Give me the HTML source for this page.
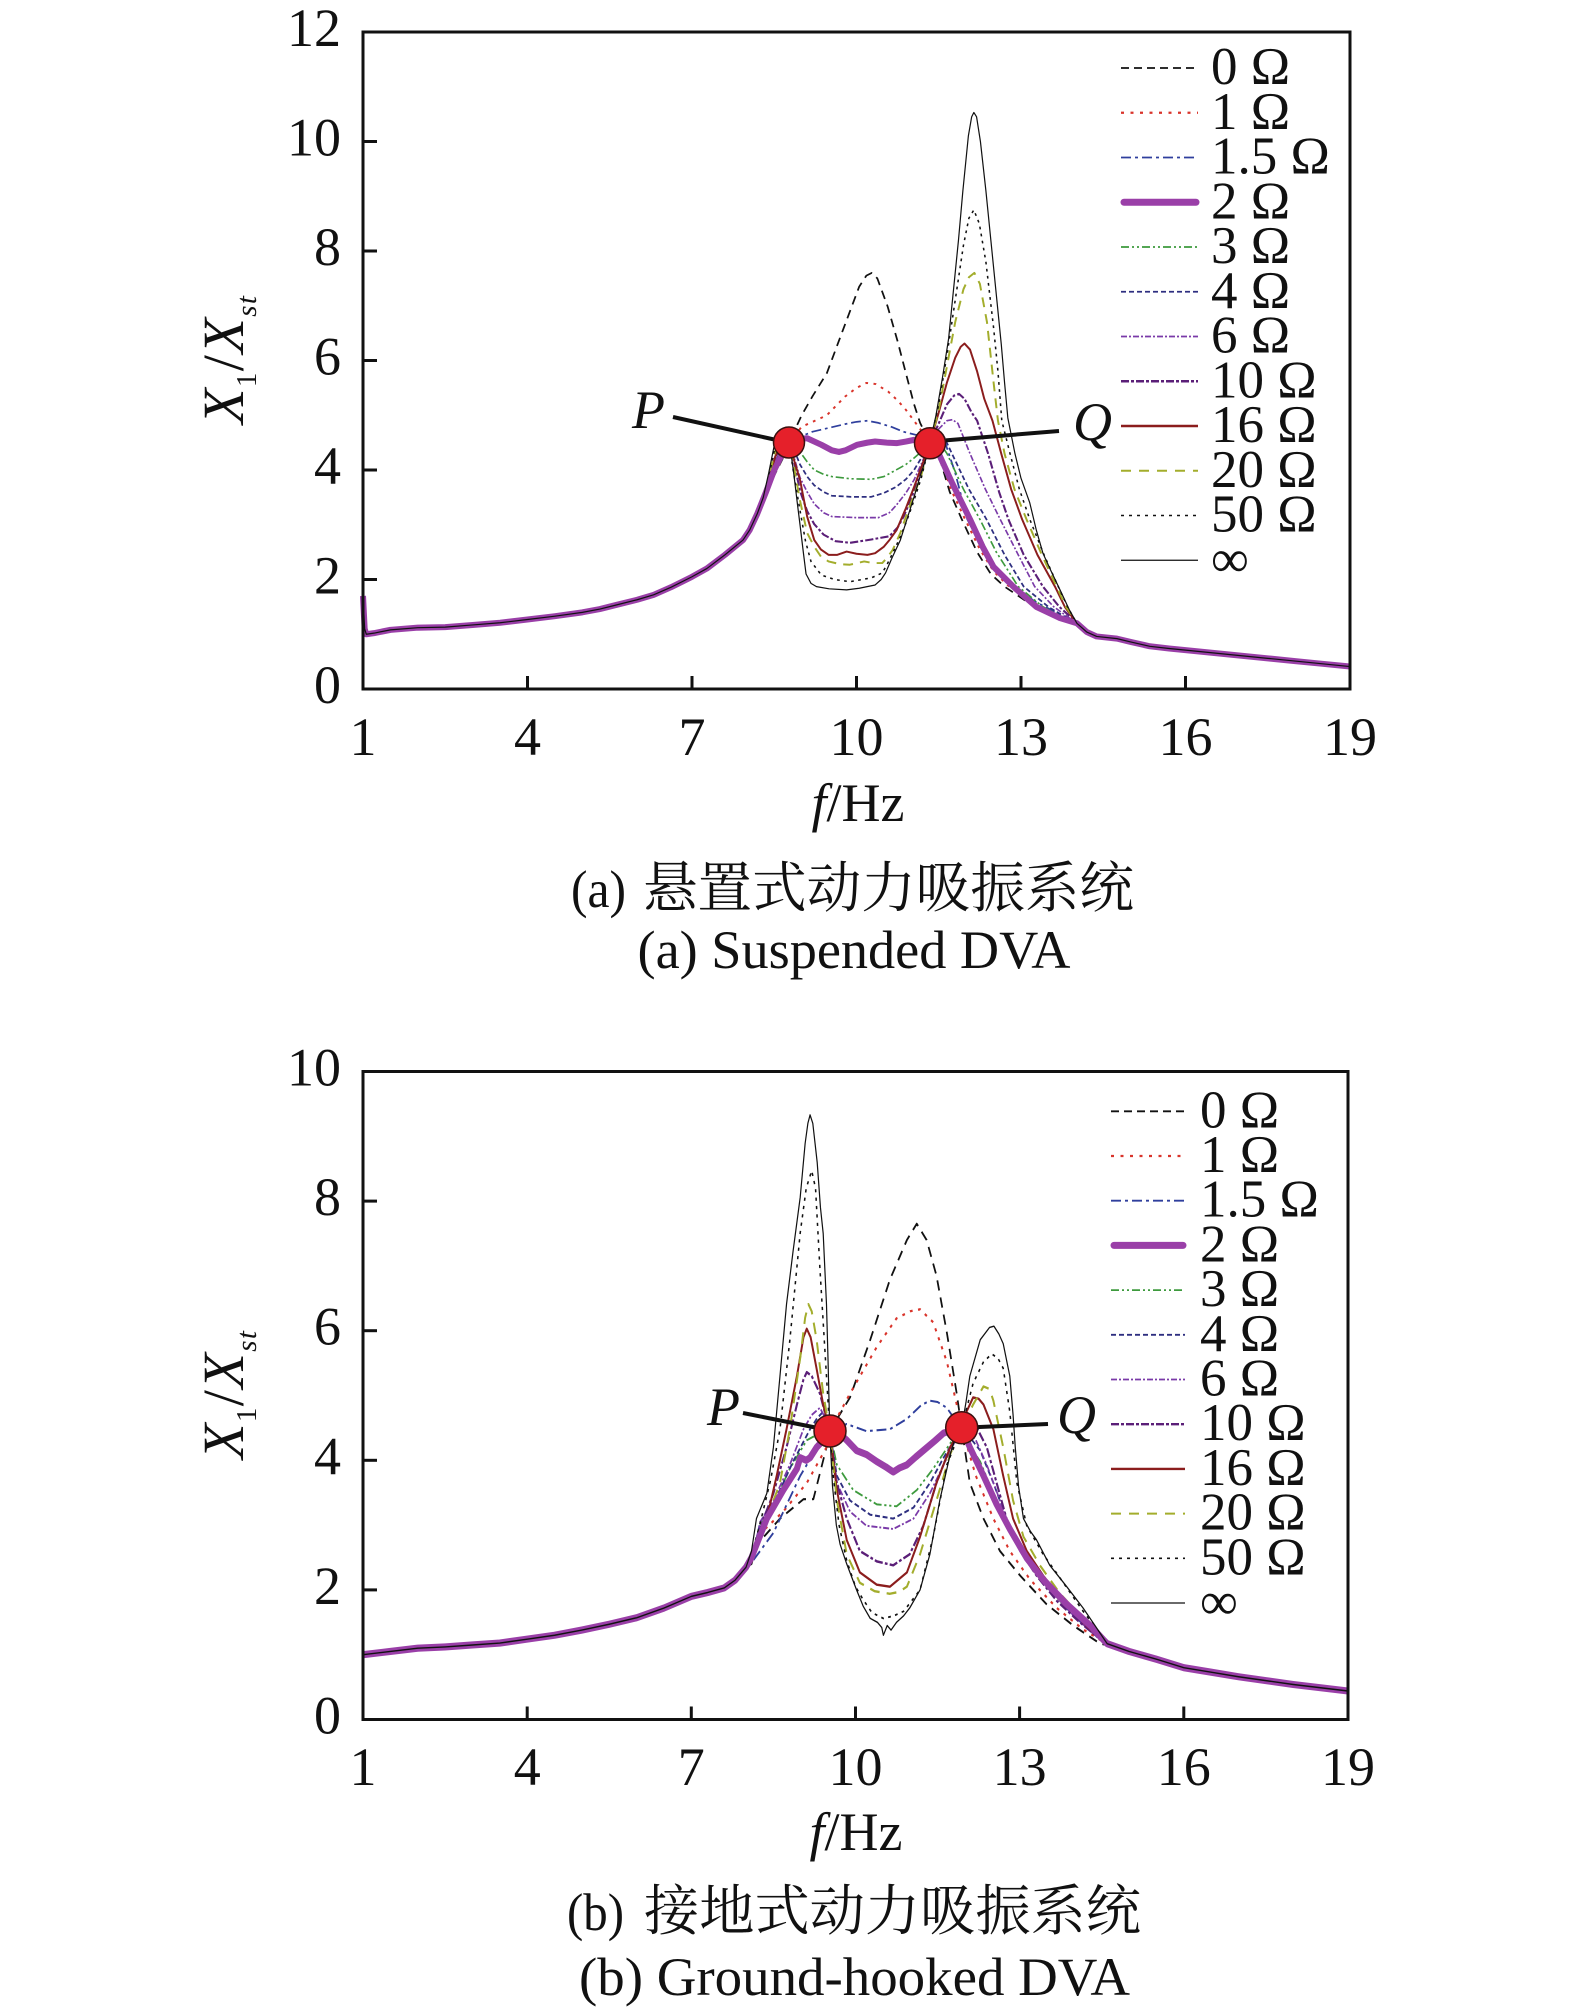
<!DOCTYPE html>
<html><head><meta charset="utf-8"><style>
html,body{margin:0;padding:0;background:#fff;}
svg{display:block;}
text{font-family:"Liberation Serif","Noto Serif CJK SC",serif;fill:#111;}
.cjk{font-family:"Noto Serif CJK SC","Liberation Serif",serif;}
polyline{fill:none;stroke-linejoin:round;}
.c0{stroke:#111;stroke-width:.032;stroke-dasharray:.16 .11}
.c1{stroke:#d9342b;stroke-width:.036;stroke-dasharray:.05 .1}
.c15{stroke:#2f3f9d;stroke-width:.032;stroke-dasharray:.18 .07 .05 .07}
.c2{stroke:#9a3fa8;stroke-width:.11}
.c3{stroke:#3d9a3d;stroke-width:.03;stroke-dasharray:.15 .05 .04 .05 .04 .05}
.c4{stroke:#2e2f80;stroke-width:.032;stroke-dasharray:.09 .05}
.c6{stroke:#7a3aa8;stroke-width:.03;stroke-dasharray:.11 .035 .035 .035}
.c10{stroke:#5b1f78;stroke-width:.038;stroke-dasharray:.15 .04 .05 .04}
.c16{stroke:#8b1d1d;stroke-width:.036}
.c20{stroke:#a3ad2c;stroke-width:.036;stroke-dasharray:.18 .13}
.c50{stroke:#111;stroke-width:.028;stroke-dasharray:.05 .08}
.cinf{stroke:#111;stroke-width:.022}
line{fill:none}
.p0{stroke:#111;stroke-width:1.8;stroke-dasharray:8 5}
.p1{stroke:#d9342b;stroke-width:2.2;stroke-dasharray:3 6.5}
.p15{stroke:#2f3f9d;stroke-width:1.8;stroke-dasharray:10 4 3 4}
.p2{stroke:#9a3fa8;stroke-width:7;stroke-linecap:round}
.p3{stroke:#3d9a3d;stroke-width:1.8;stroke-dasharray:8 3 2 3 2 3}
.p4{stroke:#2e2f80;stroke-width:1.8;stroke-dasharray:5 3}
.p6{stroke:#7a3aa8;stroke-width:1.8;stroke-dasharray:6 2 2 2}
.p10{stroke:#5b1f78;stroke-width:2.4;stroke-dasharray:8 2 3 2}
.p16{stroke:#8b1d1d;stroke-width:2.4}
.p20{stroke:#a3ad2c;stroke-width:2;stroke-dasharray:10 8}
.p50{stroke:#111;stroke-width:1.6;stroke-dasharray:3 5}
.pinf{stroke:#111;stroke-width:1.3}
.ax{fill:none;stroke:#111;stroke-width:3}
.tk{stroke:#111;stroke-width:3}
.pt{fill:#e5202a;stroke:#3a1010;stroke-width:1.5}
.ld{stroke:#111;stroke-width:4}
</style></head>
<body>
<svg width="1575" height="2016" viewBox="0 0 1575 2016" xmlns="http://www.w3.org/2000/svg">
<rect width="1575" height="2016" fill="#fff"/>

<!-- ================= CHART 1 ================= -->
<g transform="matrix(54.833 0 0 -54.75 308.167 689)">
<polyline class="c0" points="1,1.7 1.03,1.1 1.06,1.0 1.2,1.02 1.5,1.08 2,1.12 2.5,1.13 3,1.17 3.5,1.21 4,1.27 4.5,1.33 5,1.4 5.32,1.46 5.6,1.53 6,1.63 6.3,1.72 6.62,1.86 7,2.05 7.27,2.2 7.6,2.45 7.93,2.72 8.05,2.9 8.19,3.2 8.35,3.55 8.5,3.9 8.65,4.2 8.77,4.5 9.0,5.0 9.2,5.35 9.46,5.77 9.75,6.55 10.05,7.35 10.18,7.55 10.28,7.6 10.38,7.5 10.57,6.98 10.75,6.35 10.9,5.77 11.05,5.2 11.16,4.86 11.34,4.5 11.49,4.3 11.7,3.6 11.92,3.1 12.2,2.5 12.45,2.1 12.7,1.87 13.1,1.6 13.5,1.4 13.8,1.29 14.02,1.2 14.2,1.04 14.38,0.96 14.75,0.92 15,0.86 15.35,0.78 15.7,0.74 16,0.71 16.5,0.66 17,0.61 17.5,0.56 18,0.51 18.5,0.46 19,0.41"/>
<polyline class="c1" points="1,1.7 1.03,1.1 1.06,1.0 1.2,1.02 1.5,1.08 2,1.12 2.5,1.13 3,1.17 3.5,1.21 4,1.27 4.5,1.33 5,1.4 5.32,1.46 5.6,1.53 6,1.63 6.3,1.72 6.62,1.86 7,2.05 7.27,2.2 7.6,2.45 7.93,2.72 8.05,2.9 8.19,3.2 8.35,3.55 8.5,3.92 8.65,4.22 8.77,4.5 9.0,4.79 9.2,4.88 9.46,5.0 9.79,5.34 10.0,5.5 10.18,5.59 10.35,5.57 10.58,5.43 10.75,5.27 10.9,5.1 11.13,4.79 11.34,4.5 11.5,4.3 11.72,3.65 11.98,3.1 12.25,2.55 12.5,2.15 12.75,1.9 13.15,1.62 13.55,1.42 13.8,1.3 14.02,1.2 14.2,1.04 14.38,0.96 14.75,0.92 15,0.86 15.35,0.78 15.7,0.74 16,0.71 16.5,0.66 17,0.61 17.5,0.56 18,0.51 18.5,0.46 19,0.41"/>
<polyline class="c15" points="1,1.7 1.03,1.1 1.06,1.0 1.2,1.02 1.5,1.08 2,1.12 2.5,1.13 3,1.17 3.5,1.21 4,1.27 4.5,1.33 5,1.4 5.32,1.46 5.6,1.53 6,1.63 6.3,1.72 6.62,1.86 7,2.05 7.27,2.2 7.6,2.45 7.93,2.72 8.05,2.9 8.19,3.2 8.35,3.6 8.5,3.98 8.65,4.28 8.77,4.5 9.0,4.62 9.2,4.7 9.5,4.77 9.8,4.84 10.0,4.88 10.2,4.9 10.4,4.86 10.63,4.79 10.85,4.7 11.09,4.64 11.34,4.5 11.48,4.62 11.6,4.55 11.8,3.95 12.02,3.1 12.3,2.55 12.55,2.2 12.8,1.95 13.25,1.6 13.6,1.42 13.85,1.3 14.02,1.2 14.2,1.04 14.38,0.96 14.75,0.92 15,0.86 15.35,0.78 15.7,0.74 16,0.71 16.5,0.66 17,0.61 17.5,0.56 18,0.51 18.5,0.46 19,0.41"/>
<polyline class="c3" points="1,1.7 1.03,1.1 1.06,1.0 1.2,1.02 1.5,1.08 2,1.12 2.5,1.13 3,1.17 3.5,1.21 4,1.27 4.5,1.33 5,1.4 5.32,1.46 5.6,1.53 6,1.63 6.3,1.72 6.62,1.86 7,2.05 7.27,2.2 7.6,2.45 7.93,2.72 8.05,2.9 8.19,3.2 8.35,3.62 8.5,4.05 8.65,4.38 8.77,4.5 8.87,4.45 8.97,4.33 9.1,4.15 9.23,4.0 9.4,3.92 9.55,3.88 9.9,3.84 10.27,3.83 10.5,3.88 10.72,4.0 10.9,4.1 11.05,4.22 11.2,4.35 11.34,4.5 11.48,4.55 11.65,4.3 11.95,3.65 12.25,3.1 12.55,2.5 12.95,1.87 13.4,1.5 13.75,1.32 14.02,1.2 14.2,1.04 14.38,0.96 14.75,0.92 15,0.86 15.35,0.78 15.7,0.74 16,0.71 16.5,0.66 17,0.61 17.5,0.56 18,0.51 18.5,0.46 19,0.41"/>
<polyline class="c4" points="1,1.7 1.03,1.1 1.06,1.0 1.2,1.02 1.5,1.08 2,1.12 2.5,1.13 3,1.17 3.5,1.21 4,1.27 4.5,1.33 5,1.4 5.32,1.46 5.6,1.53 6,1.63 6.3,1.72 6.62,1.86 7,2.05 7.27,2.2 7.6,2.45 7.93,2.72 8.05,2.9 8.19,3.2 8.35,3.64 8.5,4.1 8.65,4.42 8.77,4.5 8.87,4.35 8.97,4.1 9.1,3.88 9.23,3.72 9.4,3.6 9.55,3.53 9.9,3.51 10.27,3.51 10.5,3.58 10.72,3.69 10.9,3.83 11.05,4.0 11.2,4.25 11.34,4.5 11.5,4.65 11.6,4.6 11.74,4.3 12.05,3.65 12.37,3.1 12.7,2.45 13.05,1.87 13.5,1.5 13.8,1.32 14.02,1.2 14.2,1.04 14.38,0.96 14.75,0.92 15,0.86 15.35,0.78 15.7,0.74 16,0.71 16.5,0.66 17,0.61 17.5,0.56 18,0.51 18.5,0.46 19,0.41"/>
<polyline class="c6" points="1,1.7 1.03,1.1 1.06,1.0 1.2,1.02 1.5,1.08 2,1.12 2.5,1.13 3,1.17 3.5,1.21 4,1.27 4.5,1.33 5,1.4 5.32,1.46 5.6,1.53 6,1.63 6.3,1.72 6.62,1.86 7,2.05 7.27,2.2 7.6,2.45 7.93,2.72 8.05,2.9 8.19,3.2 8.35,3.66 8.5,4.15 8.65,4.45 8.77,4.5 8.87,4.2 8.97,3.86 9.1,3.6 9.23,3.38 9.4,3.22 9.55,3.15 10.0,3.13 10.4,3.13 10.6,3.22 10.72,3.35 10.9,3.58 11.05,3.82 11.2,4.15 11.34,4.5 11.5,4.75 11.65,4.9 11.75,4.92 11.85,4.85 12.07,4.3 12.35,3.65 12.62,3.1 12.95,2.45 13.25,1.87 13.6,1.5 13.85,1.32 14.02,1.2 14.2,1.04 14.38,0.96 14.75,0.92 15,0.86 15.35,0.78 15.7,0.74 16,0.71 16.5,0.66 17,0.61 17.5,0.56 18,0.51 18.5,0.46 19,0.41"/>
<polyline class="c10" points="1,1.7 1.03,1.1 1.06,1.0 1.2,1.02 1.5,1.08 2,1.12 2.5,1.13 3,1.17 3.5,1.21 4,1.27 4.5,1.33 5,1.4 5.32,1.46 5.6,1.53 6,1.63 6.3,1.72 6.62,1.86 7,2.05 7.27,2.2 7.6,2.45 7.93,2.72 8.05,2.9 8.19,3.2 8.35,3.68 8.5,4.2 8.65,4.5 8.77,4.5 8.87,4.1 8.97,3.62 9.1,3.25 9.23,3.01 9.4,2.82 9.62,2.7 9.88,2.67 10.27,2.73 10.6,2.79 10.75,2.95 10.86,3.15 11.0,3.48 11.12,3.82 11.25,4.2 11.34,4.5 11.5,4.85 11.65,5.2 11.78,5.36 11.87,5.39 11.97,5.3 12.1,5.05 12.2,4.9 12.4,4.3 12.6,3.6 12.77,3.1 13.05,2.45 13.4,1.87 13.7,1.5 13.9,1.32 14.02,1.2 14.2,1.04 14.38,0.96 14.75,0.92 15,0.86 15.35,0.78 15.7,0.74 16,0.71 16.5,0.66 17,0.61 17.5,0.56 18,0.51 18.5,0.46 19,0.41"/>
<polyline class="c16" points="1,1.7 1.03,1.1 1.06,1.0 1.2,1.02 1.5,1.08 2,1.12 2.5,1.13 3,1.17 3.5,1.21 4,1.27 4.5,1.33 5,1.4 5.32,1.46 5.6,1.53 6,1.63 6.3,1.72 6.62,1.86 7,2.05 7.27,2.2 7.6,2.45 7.93,2.72 8.05,2.9 8.19,3.2 8.36,3.7 8.52,4.25 8.65,4.52 8.77,4.5 8.87,4.15 8.97,3.82 9.1,3.15 9.23,2.72 9.35,2.55 9.49,2.45 9.65,2.45 9.82,2.51 10.0,2.47 10.2,2.45 10.34,2.48 10.5,2.6 10.6,2.72 10.73,2.9 10.9,3.3 11.05,3.69 11.2,4.1 11.34,4.5 11.5,5.05 11.65,5.6 11.8,6.05 11.9,6.25 11.97,6.31 12.07,6.2 12.2,5.8 12.33,5.3 12.48,4.9 12.64,4.3 12.82,3.65 13.02,3.1 13.3,2.45 13.62,1.87 13.8,1.5 13.93,1.32 14.02,1.2 14.2,1.04 14.38,0.96 14.75,0.92 15,0.86 15.35,0.78 15.7,0.74 16,0.71 16.5,0.66 17,0.61 17.5,0.56 18,0.51 18.5,0.46 19,0.41"/>
<polyline class="c20" points="1,1.7 1.03,1.1 1.06,1.0 1.2,1.02 1.5,1.08 2,1.12 2.5,1.13 3,1.17 3.5,1.21 4,1.27 4.5,1.33 5,1.4 5.32,1.46 5.6,1.53 6,1.63 6.3,1.72 6.62,1.86 7,2.05 7.27,2.2 7.6,2.45 7.93,2.72 8.05,2.9 8.19,3.2 8.37,3.75 8.52,4.35 8.64,4.58 8.77,4.5 8.87,4.0 8.97,3.44 9.1,2.85 9.23,2.6 9.35,2.42 9.49,2.33 9.7,2.28 9.88,2.27 10.14,2.33 10.3,2.3 10.47,2.3 10.56,2.4 10.66,2.54 10.8,2.85 10.92,3.2 11.05,3.55 11.18,3.9 11.34,4.5 11.5,5.1 11.65,5.9 11.8,6.7 11.95,7.3 12.05,7.52 12.15,7.6 12.25,7.4 12.38,6.7 12.5,5.6 12.58,4.9 12.7,4.3 12.88,3.65 13.1,3.1 13.38,2.45 13.65,1.87 13.82,1.5 13.94,1.32 14.02,1.2 14.2,1.04 14.38,0.96 14.75,0.92 15,0.86 15.35,0.78 15.7,0.74 16,0.71 16.5,0.66 17,0.61 17.5,0.56 18,0.51 18.5,0.46 19,0.41"/>
<polyline class="c50" points="1,1.7 1.03,1.1 1.06,1.0 1.2,1.02 1.5,1.08 2,1.12 2.5,1.13 3,1.17 3.5,1.21 4,1.27 4.5,1.33 5,1.4 5.32,1.46 5.6,1.53 6,1.63 6.3,1.72 6.62,1.86 7,2.05 7.27,2.2 7.6,2.45 7.93,2.72 8.05,2.9 8.19,3.2 8.38,3.78 8.52,4.45 8.6,4.62 8.68,4.6 8.77,4.5 8.86,3.9 8.97,3.26 9.07,2.7 9.17,2.33 9.36,2.08 9.6,2.0 9.88,1.96 10.1,2.0 10.27,2.03 10.47,2.12 10.56,2.28 10.66,2.48 10.8,2.78 10.92,3.08 11.05,3.45 11.18,3.85 11.34,4.5 11.5,5.2 11.65,6.1 11.8,7.1 11.95,8.1 12.05,8.6 12.14,8.75 12.24,8.5 12.36,7.8 12.5,6.6 12.58,5.8 12.65,4.9 12.8,4.3 12.97,3.65 13.16,3.1 13.42,2.45 13.68,1.87 13.85,1.5 13.95,1.32 14.02,1.2 14.2,1.04 14.38,0.96 14.75,0.92 15,0.86 15.35,0.78 15.7,0.74 16,0.71 16.5,0.66 17,0.61 17.5,0.56 18,0.51 18.5,0.46 19,0.41"/>
<polyline class="c2" points="1,1.7 1.03,1.1 1.06,1.0 1.2,1.02 1.5,1.08 2,1.12 2.5,1.13 3,1.17 3.5,1.21 4,1.27 4.5,1.33 5,1.4 5.32,1.46 5.6,1.53 6,1.63 6.3,1.72 6.62,1.86 7,2.05 7.27,2.2 7.6,2.45 7.93,2.72 8.05,2.9 8.19,3.2 8.35,3.6 8.5,4.0 8.65,4.3 8.77,4.5 8.9,4.56 9.1,4.58 9.36,4.46 9.55,4.36 9.68,4.33 9.8,4.36 10.01,4.46 10.2,4.5 10.34,4.52 10.55,4.5 10.73,4.49 10.9,4.52 11.05,4.55 11.2,4.52 11.34,4.5 11.5,4.3 11.75,3.75 12.07,3.1 12.3,2.6 12.5,2.23 12.86,1.87 13.28,1.5 13.7,1.3 14.02,1.2 14.2,1.04 14.38,0.96 14.75,0.92 15,0.86 15.35,0.78 15.7,0.74 16,0.71 16.5,0.66 17,0.61 17.5,0.56 18,0.51 18.5,0.46 19,0.41"/>
<polyline class="cinf" points="1,1.7 1.03,1.1 1.06,1.0 1.2,1.02 1.5,1.08 2,1.12 2.5,1.13 3,1.17 3.5,1.21 4,1.27 4.5,1.33 5,1.4 5.32,1.46 5.6,1.53 6,1.63 6.3,1.72 6.62,1.86 7,2.05 7.27,2.2 7.6,2.45 7.93,2.72 8.05,2.9 8.19,3.2 8.3,3.5 8.4,3.95 8.5,4.45 8.56,4.68 8.62,4.73 8.68,4.68 8.74,4.58 8.8,4.35 8.86,3.9 8.92,3.4 8.97,3.0 9.03,2.5 9.08,2.1 9.17,1.93 9.27,1.87 9.5,1.83 9.82,1.81 10.05,1.84 10.34,1.9 10.45,2.0 10.53,2.12 10.65,2.4 10.8,2.72 10.92,3.1 11.05,3.51 11.18,3.95 11.28,4.24 11.34,4.5 11.45,5.0 11.57,5.7 11.68,6.4 11.77,7.3 11.86,8.2 11.94,9.1 12.04,10.1 12.1,10.45 12.14,10.53 12.19,10.45 12.26,10.0 12.36,9.1 12.45,8.2 12.55,7.2 12.64,6.3 12.7,5.6 12.76,4.95 12.89,4.3 13.0,3.85 13.16,3.4 13.28,2.9 13.4,2.48 13.55,2.15 13.74,1.75 13.88,1.45 14.02,1.2 14.2,1.04 14.38,0.96 14.75,0.92 15,0.86 15.35,0.78 15.7,0.74 16,0.71 16.5,0.66 17,0.61 17.5,0.56 18,0.51 18.5,0.46 19,0.41"/>
</g>

<!-- axes chart 1 -->
<rect class="ax" x="363" y="32" width="987" height="657"/>
<line class="tk" x1="363" y1="579.5" x2="377" y2="579.5"/>
<line class="tk" x1="363" y1="470" x2="377" y2="470"/>
<line class="tk" x1="363" y1="360.5" x2="377" y2="360.5"/>
<line class="tk" x1="363" y1="251" x2="377" y2="251"/>
<line class="tk" x1="363" y1="141.5" x2="377" y2="141.5"/>
<line class="tk" x1="527.5" y1="689" x2="527.5" y2="676"/>
<line class="tk" x1="692" y1="689" x2="692" y2="676"/>
<line class="tk" x1="856.5" y1="689" x2="856.5" y2="676"/>
<line class="tk" x1="1021" y1="689" x2="1021" y2="676"/>
<line class="tk" x1="1185.5" y1="689" x2="1185.5" y2="676"/>
<g font-size="54" text-anchor="end">
<text x="341" y="703">0</text><text x="341" y="593.5">2</text><text x="341" y="484">4</text>
<text x="341" y="374.5">6</text><text x="341" y="265">8</text><text x="341" y="155.5">10</text><text x="341" y="46">12</text>
</g>
<g font-size="54" text-anchor="middle">
<text x="363" y="755">1</text><text x="527.5" y="755">4</text><text x="692" y="755">7</text><text x="856.5" y="755">10</text>
<text x="1021" y="755">13</text><text x="1185.5" y="755">16</text><text x="1350" y="755">19</text>
</g>
<text transform="translate(243,360) rotate(-90)" text-anchor="middle" font-size="58" textLength="128"><tspan font-style="italic">X</tspan><tspan font-size="29" dy="13">1</tspan><tspan dy="-13">/</tspan><tspan font-style="italic">X</tspan><tspan font-style="italic" font-size="29" dy="13">st</tspan></text>
<text x="858" y="821" text-anchor="middle" font-size="54"><tspan font-style="italic">f</tspan>/Hz</text>

<!-- P Q chart 1 -->
<line class="ld" x1="673" y1="417" x2="781" y2="441"/>
<line class="ld" x1="938" y1="441" x2="1059" y2="431"/>
<circle class="pt" cx="789" cy="442.5" r="15.5"/>
<circle class="pt" cx="930" cy="443.3" r="15.5"/>
<text x="632" y="428" font-size="54" font-style="italic">P</text>
<text x="1073" y="440" font-size="54" font-style="italic">Q</text>

<!-- legend chart 1 -->
<line class="p0" x1="1121" y1="68" x2="1198" y2="68"/>
<line class="p1" x1="1121" y1="112.75" x2="1198" y2="112.75"/>
<line class="p15" x1="1121" y1="157.5" x2="1198" y2="157.5"/>
<line class="p2" x1="1124" y1="202.25" x2="1196" y2="202.25"/>
<line class="p3" x1="1121" y1="247" x2="1198" y2="247"/>
<line class="p4" x1="1121" y1="291.75" x2="1198" y2="291.75"/>
<line class="p6" x1="1121" y1="336.5" x2="1198" y2="336.5"/>
<line class="p10" x1="1121" y1="381.25" x2="1198" y2="381.25"/>
<line class="p16" x1="1121" y1="426" x2="1198" y2="426"/>
<line class="p20" x1="1121" y1="470.75" x2="1198" y2="470.75"/>
<line class="p50" x1="1121" y1="515.5" x2="1198" y2="515.5"/>
<line class="pinf" x1="1121" y1="560.25" x2="1198" y2="560.25"/>
<g font-size="53">
<text x="1211" y="84">0 Ω</text><text x="1211" y="128.75">1 Ω</text><text x="1211" y="173.5">1.5 Ω</text>
<text x="1211" y="218.25">2 Ω</text><text x="1211" y="263">3 Ω</text><text x="1211" y="307.75">4 Ω</text>
<text x="1211" y="352.5">6 Ω</text><text x="1211" y="397.25">10 Ω</text><text x="1211" y="442">16 Ω</text>
<text x="1211" y="486.75">20 Ω</text><text x="1211" y="531.5">50 Ω</text><text x="1211" y="576.25">∞</text>
</g>

<!-- captions chart 1 -->
<text x="571" y="907" font-size="53" textLength="55" lengthAdjust="spacingAndGlyphs">(a)</text>
<text class="cjk" x="643" y="907" font-size="55" textLength="491" lengthAdjust="spacingAndGlyphs">悬置式动力吸振系统</text>
<text x="637.5" y="968" font-size="53.5" textLength="433" lengthAdjust="spacingAndGlyphs">(a) Suspended DVA</text>

<!-- ================= CHART 2 ================= -->
<g transform="matrix(54.72 0 0 -64.8 308.28 1719.5)">
<polyline class="c0" points="1,1.0 1.5,1.05 2,1.1 2.5,1.12 3,1.15 3.5,1.18 4,1.24 4.5,1.3 5,1.38 5.5,1.47 6,1.57 6.5,1.72 7,1.9 7.3,1.96 7.6,2.03 7.8,2.15 8.0,2.35 8.1,2.4 8.2,2.7 8.62,3.1 9.05,3.4 9.23,3.4 9.29,3.6 9.47,4.2 9.53,4.45 9.9,4.97 10.27,5.86 10.63,6.79 10.94,7.4 11.12,7.65 11.3,7.4 11.48,6.85 11.67,5.97 11.85,5.03 11.94,4.5 12.09,3.65 12.34,3.1 12.64,2.6 13.01,2.22 13.49,1.78 13.98,1.45 14.47,1.17 14.6,1.15 15,1.05 15.5,0.93 16,0.8 16.5,0.73 17,0.66 17.5,0.6 18,0.54 18.5,0.49 19,0.44"/>
<polyline class="c1" points="1,1.0 1.5,1.05 2,1.1 2.5,1.12 3,1.15 3.5,1.18 4,1.24 4.5,1.3 5,1.38 5.5,1.47 6,1.57 6.5,1.72 7,1.9 7.3,1.96 7.6,2.03 7.8,2.15 8.0,2.35 8.1,2.42 8.2,2.82 8.68,3.21 9.11,3.65 9.47,4.2 9.53,4.45 9.9,5.03 10.39,5.75 10.75,6.19 11.0,6.3 11.18,6.33 11.42,6.13 11.67,5.52 11.85,4.86 11.94,4.5 12.2,3.76 12.52,3.1 12.82,2.6 13.19,2.16 13.68,1.72 14.16,1.39 14.53,1.2 14.6,1.17 15,1.05 15.5,0.93 16,0.8 16.5,0.73 17,0.66 17.5,0.6 18,0.54 18.5,0.49 19,0.44"/>
<polyline class="c15" points="1,1.0 1.5,1.05 2,1.1 2.5,1.12 3,1.15 3.5,1.18 4,1.24 4.5,1.3 5,1.38 5.5,1.47 6,1.57 6.5,1.72 7,1.9 7.3,1.96 7.6,2.03 7.8,2.15 8.0,2.35 8.1,2.42 8.5,2.88 8.99,3.76 9.3,4.2 9.53,4.45 9.84,4.56 10.2,4.45 10.63,4.48 10.94,4.64 11.2,4.85 11.36,4.92 11.5,4.9 11.67,4.81 11.85,4.59 11.94,4.5 12.15,4.09 12.46,3.54 12.76,2.99 13.07,2.55 13.49,2.05 13.98,1.61 14.41,1.28 14.6,1.17 15,1.05 15.5,0.93 16,0.8 16.5,0.73 17,0.66 17.5,0.6 18,0.54 18.5,0.49 19,0.44"/>
<polyline class="c3" points="1,1.0 1.5,1.05 2,1.1 2.5,1.12 3,1.15 3.5,1.18 4,1.24 4.5,1.3 5,1.38 5.5,1.47 6,1.57 6.5,1.72 7,1.9 7.3,1.96 7.6,2.03 7.8,2.15 8.0,2.35 8.1,2.43 8.26,2.99 8.5,3.32 8.8,3.87 9.11,4.31 9.35,4.42 9.53,4.45 9.66,3.93 9.96,3.54 10.39,3.32 10.75,3.29 11.12,3.54 11.42,3.87 11.73,4.26 11.94,4.5 12.03,4.31 12.28,3.98 12.52,3.49 12.76,2.99 13.07,2.55 13.43,2.11 13.86,1.72 14.35,1.34 14.6,1.17 15,1.05 15.5,0.93 16,0.8 16.5,0.73 17,0.66 17.5,0.6 18,0.54 18.5,0.49 19,0.44"/>
<polyline class="c4" points="1,1.0 1.5,1.05 2,1.1 2.5,1.12 3,1.15 3.5,1.18 4,1.24 4.5,1.3 5,1.38 5.5,1.47 6,1.57 6.5,1.72 7,1.9 7.3,1.96 7.6,2.03 7.8,2.15 8.0,2.35 8.1,2.45 8.26,3.05 8.56,3.43 8.86,3.98 9.17,4.48 9.3,4.65 9.41,4.75 9.47,4.6 9.53,4.45 9.66,3.76 9.9,3.38 10.27,3.16 10.69,3.1 11.06,3.27 11.36,3.65 11.61,4.04 11.94,4.5 12.03,4.42 12.28,4.15 12.52,3.65 12.76,3.1 13.07,2.6 13.43,2.16 13.86,1.78 14.35,1.34 14.6,1.17 15,1.05 15.5,0.93 16,0.8 16.5,0.73 17,0.66 17.5,0.6 18,0.54 18.5,0.49 19,0.44"/>
<polyline class="c6" points="1,1.0 1.5,1.05 2,1.1 2.5,1.12 3,1.15 3.5,1.18 4,1.24 4.5,1.3 5,1.38 5.5,1.47 6,1.57 6.5,1.72 7,1.9 7.3,1.96 7.6,2.03 7.8,2.15 8.0,2.35 8.1,2.45 8.26,3.05 8.5,3.38 8.8,3.93 9.05,4.48 9.2,4.7 9.35,4.81 9.45,4.65 9.53,4.45 9.66,3.65 9.9,3.21 10.2,2.99 10.69,2.94 11.06,3.1 11.36,3.49 11.61,3.93 11.94,4.5 12.03,4.48 12.2,4.31 12.4,3.93 12.64,3.38 12.88,2.82 13.19,2.44 13.56,2.0 13.98,1.61 14.47,1.23 14.6,1.17 15,1.05 15.5,0.93 16,0.8 16.5,0.73 17,0.66 17.5,0.6 18,0.54 18.5,0.49 19,0.44"/>
<polyline class="c10" points="1,1.0 1.5,1.05 2,1.1 2.5,1.12 3,1.15 3.5,1.18 4,1.24 4.5,1.3 5,1.38 5.5,1.47 6,1.57 6.5,1.72 7,1.9 7.3,1.96 7.6,2.03 7.8,2.15 8.0,2.35 8.1,2.48 8.32,3.1 8.5,3.49 8.74,4.2 8.93,4.86 9.05,5.25 9.11,5.36 9.2,5.3 9.35,5.03 9.53,4.45 9.66,3.65 9.84,3.1 10.08,2.6 10.39,2.44 10.69,2.38 10.99,2.55 11.24,2.99 11.48,3.65 11.73,4.2 11.94,4.5 12.03,4.64 12.2,4.53 12.4,4.2 12.58,3.65 12.76,3.1 13.01,2.6 13.31,2.22 13.68,1.83 14.1,1.5 14.53,1.2 14.6,1.17 15,1.05 15.5,0.93 16,0.8 16.5,0.73 17,0.66 17.5,0.6 18,0.54 18.5,0.49 19,0.44"/>
<polyline class="c16" points="1,1.0 1.5,1.05 2,1.1 2.5,1.12 3,1.15 3.5,1.18 4,1.24 4.5,1.3 5,1.38 5.5,1.47 6,1.57 6.5,1.72 7,1.9 7.3,1.96 7.6,2.03 7.8,2.15 8.0,2.35 8.1,2.5 8.38,3.1 8.56,3.76 8.74,4.48 8.93,5.3 9.05,5.9 9.11,6.03 9.18,5.9 9.29,5.41 9.41,4.86 9.53,4.45 9.66,3.54 9.84,2.77 10.08,2.27 10.39,2.08 10.63,2.05 10.94,2.27 11.18,2.82 11.48,3.65 11.73,4.2 11.94,4.5 12.03,4.75 12.15,4.97 12.25,4.95 12.34,4.86 12.52,4.48 12.7,3.76 12.88,3.1 13.13,2.6 13.43,2.22 13.8,1.83 14.16,1.5 14.53,1.2 14.6,1.17 15,1.05 15.5,0.93 16,0.8 16.5,0.73 17,0.66 17.5,0.6 18,0.54 18.5,0.49 19,0.44"/>
<polyline class="c20" points="1,1.0 1.5,1.05 2,1.1 2.5,1.12 3,1.15 3.5,1.18 4,1.24 4.5,1.3 5,1.38 5.5,1.47 6,1.57 6.5,1.72 7,1.9 7.3,1.96 7.6,2.03 7.8,2.15 8.0,2.35 8.1,2.5 8.38,3.1 8.62,3.65 8.8,4.48 8.99,5.58 9.08,6.2 9.14,6.41 9.2,6.3 9.29,5.86 9.41,5.03 9.53,4.45 9.66,3.38 9.84,2.55 10.08,2.11 10.35,1.98 10.63,1.94 10.8,1.97 10.94,2.05 11.18,2.55 11.48,3.38 11.73,4.09 11.94,4.5 12.15,4.86 12.34,5.14 12.45,5.1 12.52,4.92 12.7,4.2 12.88,3.38 13.07,2.82 13.37,2.38 13.74,1.94 14.16,1.56 14.53,1.23 14.6,1.17 15,1.05 15.5,0.93 16,0.8 16.5,0.73 17,0.66 17.5,0.6 18,0.54 18.5,0.49 19,0.44"/>
<polyline class="c50" points="1,1.0 1.5,1.05 2,1.1 2.5,1.12 3,1.15 3.5,1.18 4,1.24 4.5,1.3 5,1.38 5.5,1.47 6,1.57 6.5,1.72 7,1.9 7.3,1.96 7.6,2.03 7.8,2.15 8.0,2.35 8.1,2.55 8.25,3.0 8.45,3.7 8.62,4.48 8.8,5.85 8.99,7.51 9.1,8.2 9.2,8.47 9.27,8.2 9.35,6.96 9.47,5.3 9.53,4.45 9.6,3.7 9.7,3.0 9.84,2.45 10.0,2.05 10.14,1.85 10.3,1.65 10.51,1.56 10.7,1.6 10.88,1.67 11.18,2.0 11.42,2.82 11.67,3.93 11.94,4.5 12.15,5.19 12.34,5.52 12.49,5.64 12.6,5.58 12.7,5.42 12.82,4.75 12.95,3.65 13.13,2.99 13.43,2.55 13.8,2.11 14.16,1.67 14.45,1.35 14.6,1.17 15,1.05 15.5,0.93 16,0.8 16.5,0.73 17,0.66 17.5,0.6 18,0.54 18.5,0.49 19,0.44"/>
<polyline class="c2" points="1,1.0 1.5,1.05 2,1.1 2.5,1.12 3,1.15 3.5,1.18 4,1.24 4.5,1.3 5,1.38 5.5,1.47 6,1.57 6.5,1.72 7,1.9 7.3,1.96 7.6,2.03 7.8,2.15 8.0,2.35 8.1,2.5 8.38,3.1 8.68,3.54 8.93,3.87 8.99,4.04 9.1,4.0 9.17,4.04 9.29,4.2 9.4,4.3 9.53,4.45 9.7,4.42 9.84,4.31 10.02,4.15 10.2,4.09 10.39,3.98 10.55,3.9 10.69,3.82 10.8,3.88 10.94,3.93 11.1,4.05 11.24,4.15 11.45,4.3 11.61,4.42 11.94,4.5 12.09,4.2 12.34,3.76 12.58,3.32 12.82,2.94 13.13,2.49 13.43,2.16 13.86,1.78 14.29,1.45 14.53,1.23 14.6,1.17 15,1.05 15.5,0.93 16,0.8 16.5,0.73 17,0.66 17.5,0.6 18,0.54 18.5,0.49 19,0.44"/>
<polyline class="cinf" points="1,1.0 1.5,1.05 2,1.1 2.5,1.12 3,1.15 3.5,1.18 4,1.24 4.5,1.3 5,1.38 5.5,1.47 6,1.57 6.5,1.72 7,1.9 7.3,1.96 7.6,2.03 7.8,2.15 8.0,2.35 8.1,2.6 8.19,3.1 8.38,3.49 8.5,4.2 8.62,5.3 8.74,6.41 8.86,7.23 8.99,8.06 9.08,8.89 9.13,9.2 9.17,9.33 9.22,9.2 9.3,8.6 9.36,7.9 9.41,7.5 9.47,6.41 9.5,5.5 9.53,4.45 9.58,3.6 9.65,3.0 9.72,2.7 9.84,2.4 10.02,2.0 10.14,1.75 10.27,1.56 10.4,1.5 10.48,1.42 10.51,1.3 10.58,1.45 10.65,1.38 10.75,1.5 10.88,1.6 10.99,1.72 11.18,2.0 11.36,2.55 11.54,3.38 11.73,4.09 11.85,4.42 11.94,4.5 12.02,4.9 12.09,5.3 12.28,5.86 12.45,6.05 12.53,6.07 12.62,5.95 12.7,5.8 12.82,5.3 12.88,4.7 12.92,4.2 12.98,3.6 13.07,3.1 13.2,2.9 13.31,2.77 13.55,2.38 13.86,2.05 14.16,1.72 14.4,1.42 14.6,1.17 15,1.05 15.5,0.93 16,0.8 16.5,0.73 17,0.66 17.5,0.6 18,0.54 18.5,0.49 19,0.44"/>
</g>

<!-- axes chart 2 -->
<rect class="ax" x="363" y="1071.5" width="985" height="648"/>
<line class="tk" x1="363" y1="1589.9" x2="377" y2="1589.9"/>
<line class="tk" x1="363" y1="1460.3" x2="377" y2="1460.3"/>
<line class="tk" x1="363" y1="1330.7" x2="377" y2="1330.7"/>
<line class="tk" x1="363" y1="1201.1" x2="377" y2="1201.1"/>
<line class="tk" x1="527.2" y1="1719.5" x2="527.2" y2="1706.5"/>
<line class="tk" x1="691.3" y1="1719.5" x2="691.3" y2="1706.5"/>
<line class="tk" x1="855.5" y1="1719.5" x2="855.5" y2="1706.5"/>
<line class="tk" x1="1019.6" y1="1719.5" x2="1019.6" y2="1706.5"/>
<line class="tk" x1="1183.8" y1="1719.5" x2="1183.8" y2="1706.5"/>
<g font-size="54" text-anchor="end">
<text x="341" y="1733.5">0</text><text x="341" y="1604">2</text><text x="341" y="1474.3">4</text>
<text x="341" y="1344.7">6</text><text x="341" y="1215">8</text><text x="341" y="1085.5">10</text>
</g>
<g font-size="54" text-anchor="middle">
<text x="363" y="1785">1</text><text x="527.2" y="1785">4</text><text x="691.3" y="1785">7</text><text x="855.5" y="1785">10</text>
<text x="1019.6" y="1785">13</text><text x="1183.8" y="1785">16</text><text x="1348" y="1785">19</text>
</g>
<text transform="translate(243,1395) rotate(-90)" text-anchor="middle" font-size="58" textLength="128"><tspan font-style="italic">X</tspan><tspan font-size="29" dy="13">1</tspan><tspan dy="-13">/</tspan><tspan font-style="italic">X</tspan><tspan font-style="italic" font-size="29" dy="13">st</tspan></text>
<text x="856" y="1850" text-anchor="middle" font-size="54"><tspan font-style="italic">f</tspan>/Hz</text>

<!-- P Q chart 2 -->
<line class="ld" x1="743" y1="1413" x2="823" y2="1429"/>
<line class="ld" x1="968" y1="1427.5" x2="1048" y2="1424"/>
<circle class="pt" cx="830" cy="1431" r="16"/>
<circle class="pt" cx="961.7" cy="1427.7" r="16"/>
<text x="707" y="1425" font-size="54" font-style="italic">P</text>
<text x="1057" y="1433" font-size="54" font-style="italic">Q</text>

<!-- legend chart 2 -->
<line class="p0" x1="1111" y1="1111.3" x2="1185" y2="1111.3"/>
<line class="p1" x1="1111" y1="1156" x2="1185" y2="1156"/>
<line class="p15" x1="1111" y1="1200.7" x2="1185" y2="1200.7"/>
<line class="p2" x1="1114" y1="1245.4" x2="1183" y2="1245.4"/>
<line class="p3" x1="1111" y1="1290.1" x2="1185" y2="1290.1"/>
<line class="p4" x1="1111" y1="1334.8" x2="1185" y2="1334.8"/>
<line class="p6" x1="1111" y1="1379.5" x2="1185" y2="1379.5"/>
<line class="p10" x1="1111" y1="1424.2" x2="1185" y2="1424.2"/>
<line class="p16" x1="1111" y1="1468.9" x2="1185" y2="1468.9"/>
<line class="p20" x1="1111" y1="1513.6" x2="1185" y2="1513.6"/>
<line class="p50" x1="1111" y1="1558.3" x2="1185" y2="1558.3"/>
<line class="pinf" x1="1111" y1="1603" x2="1185" y2="1603"/>
<g font-size="53">
<text x="1200" y="1127.3">0 Ω</text><text x="1200" y="1172">1 Ω</text><text x="1200" y="1216.7">1.5 Ω</text>
<text x="1200" y="1261.4">2 Ω</text><text x="1200" y="1306.1">3 Ω</text><text x="1200" y="1350.8">4 Ω</text>
<text x="1200" y="1395.5">6 Ω</text><text x="1200" y="1440.2">10 Ω</text><text x="1200" y="1484.9">16 Ω</text>
<text x="1200" y="1529.6">20 Ω</text><text x="1200" y="1574.3">50 Ω</text><text x="1200" y="1619">∞</text>
</g>

<!-- captions chart 2 -->
<text x="567" y="1930" font-size="53" textLength="57" lengthAdjust="spacingAndGlyphs">(b)</text>
<text class="cjk" x="644" y="1930" font-size="55" textLength="497" lengthAdjust="spacingAndGlyphs">接地式动力吸振系统</text>
<text x="579" y="1995" font-size="53.5" textLength="551" lengthAdjust="spacingAndGlyphs">(b) Ground-hooked DVA</text>
</svg>
</body></html>
